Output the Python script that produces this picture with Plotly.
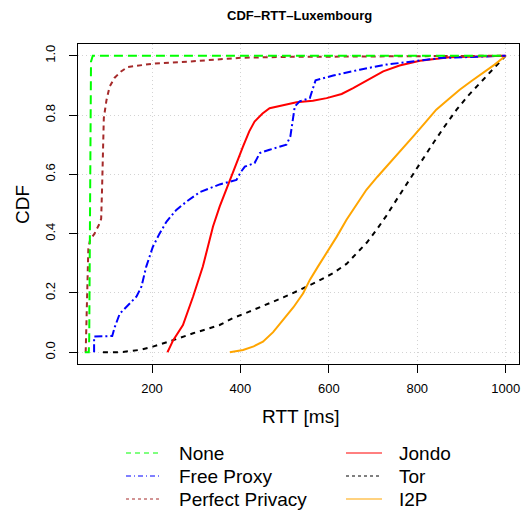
import plotly.graph_objects as go

# ---- data ----
none_x = [48, 57, 58, 59, 60, 61, 62, 66, 100, 300, 600, 1000]
none_y = [0.0, 0.0, 0.05, 0.3, 0.6, 0.9, 0.98, 1.0, 1.0, 1.0, 1.0, 1.0]

free_x = [69, 69, 110, 116, 127, 140, 150, 165, 176, 187, 202, 217, 233, 255, 278, 308, 353,
          391, 402, 410, 432, 444, 466, 504, 513, 518, 523, 534, 557, 563, 570, 610, 670,
          730, 798, 851, 1000]
free_y = [0.0, 0.053, 0.055, 0.086, 0.13, 0.15, 0.165, 0.188, 0.221, 0.289, 0.356, 0.40, 0.441,
          0.48, 0.508, 0.54, 0.566, 0.581, 0.61, 0.626, 0.638, 0.672, 0.683, 0.70, 0.728,
          0.773, 0.829, 0.846, 0.857, 0.885, 0.917, 0.933, 0.953, 0.97, 0.981, 0.992, 1.0]

pp_x = [50, 52, 54, 56, 60, 70, 80, 85, 87, 88, 89, 91, 97, 104, 115, 130, 145, 175, 202,
        280, 345, 400, 500, 700, 1000]
pp_y = [0.0, 0.12, 0.26, 0.35, 0.38, 0.40, 0.43, 0.45, 0.55, 0.65, 0.72, 0.79, 0.85, 0.895,
        0.925, 0.947, 0.962, 0.968, 0.973, 0.98, 0.986, 0.993, 0.996, 0.998, 1.0]

jondo_x = [235, 248, 270, 293, 315, 338, 353, 376, 406, 420, 432, 450, 466, 527, 564, 595,
           629, 655, 685, 723, 760, 806, 873, 1000]
jondo_y = [0.0, 0.041, 0.092, 0.188, 0.289, 0.424, 0.491, 0.581, 0.694, 0.745, 0.778, 0.805,
           0.823, 0.843, 0.848, 0.857, 0.871, 0.891, 0.916, 0.947, 0.967, 0.983, 0.995, 1.0]

tor_x = [89, 127, 172, 202, 248, 293, 353, 383, 420, 459, 497, 534, 572, 610, 640, 663, 686,
         708, 730, 753, 772, 791, 814, 836, 862, 889, 915, 942, 970, 1000]
tor_y = [0.0, 0.0, 0.008, 0.019, 0.041, 0.064, 0.092, 0.115, 0.137, 0.16, 0.185, 0.21,
         0.237, 0.267, 0.298, 0.334, 0.37, 0.413, 0.46, 0.514, 0.558, 0.604, 0.655, 0.705,
         0.762, 0.818, 0.865, 0.908, 0.952, 1.0]

i2p_x = [376, 406, 430, 451, 474, 496, 520, 542, 557, 575, 595, 618, 640, 662, 685, 710,
         738, 764, 791, 817, 843, 870, 896, 922, 949, 975, 1000]
i2p_y = [0.0, 0.008, 0.02, 0.036, 0.068, 0.109, 0.152, 0.199, 0.244, 0.288, 0.334, 0.39,
         0.447, 0.498, 0.548, 0.592, 0.638, 0.683, 0.728, 0.773, 0.818, 0.852, 0.885,
         0.914, 0.942, 0.97, 1.0]

series_names = ["None", "Free Proxy", "Perfect Privacy", "Jondo", "Tor", "I2P"]
series_x = [none_x, free_x, pp_x, jondo_x, tor_x, i2p_x]
series_y = [none_y, free_y, pp_y, jondo_y, tor_y, i2p_y]
colors = ["#00FF00", "#0000FF", "#A52A2A", "#FF0000", "#000000", "#FFA500"]
dashes = ["9px,5px", "8px,3px,2px,3px", "5px,4px", "solid", "5px,5px", "solid"]
legend_dashes = ["5px,4px", "5px,3px,1px,3px", "3px,3px", "solid", "3px,3px", "solid"]

x_ticks = [200, 400, 600, 800, 1000]
y_ticks = [0.0, 0.2, 0.4, 0.6, 0.8, 1.0]
y_tick_text = ["0.0", "0.2", "0.4", "0.6", "0.8", "1.0"]

W, H = 522, 510
L, R, T, B = 78, 3, 44, 146
plot_w = W - L - R
plot_h = H - T - B

fig = go.Figure()
order = [4, 5, 3, 1, 2, 0]
for i in order:
    fig.add_trace(go.Scatter(
        x=series_x[i], y=series_y[i], mode="lines", name=series_names[i],
        line=dict(color=colors[i], width=2, dash=dashes[i]), showlegend=False))

FONT = "Liberation Sans, Arial, Helvetica, sans-serif"

fig.update_layout(
    width=W, height=H,
    margin=dict(l=L, r=R, t=T, b=B, pad=0),
    paper_bgcolor="white", plot_bgcolor="white",
    font=dict(family=FONT, color="black", size=13),
    showlegend=False,
    xaxis=dict(range=[32.6, 1030.2], tickvals=x_ticks, ticktext=[str(v) for v in x_ticks],
               showgrid=True, gridcolor="#D3D3D3", griddash="1px,3px", gridwidth=1,
               zeroline=False, showline=True, mirror=True, linecolor="black", linewidth=1,
               ticks="outside", ticklen=8, tickcolor="black", tickfont=dict(size=13),
               ticklabelstandoff=4),
    yaxis=dict(range=[-0.0395, 1.0395], tickvals=y_ticks, ticktext=y_tick_text,
               showgrid=True, gridcolor="#D3D3D3", griddash="1px,3px", gridwidth=1,
               zeroline=False, showline=True, mirror=True, linecolor="black", linewidth=1,
               ticks="outside", ticklen=8, tickcolor="black", tickfont=dict(size=13),
               tickangle=-90, ticklabelstandoff=9),
)

def px_to_paper_x(px):
    return (px - L) / plot_w

def py_to_paper_y(py):
    return (H - B - py) / plot_h

annotations = [
    dict(text="<b>CDF\u2013RTT\u2013Luxembourg</b>", x=px_to_paper_x(299), y=py_to_paper_y(15),
         xref="paper", yref="paper", showarrow=False, font=dict(size=13),
         xanchor="center", yanchor="middle"),
    dict(text="RTT [ms]", x=px_to_paper_x(300), y=py_to_paper_y(416),
         xref="paper", yref="paper", showarrow=False, font=dict(size=19),
         xanchor="center", yanchor="middle"),
    dict(text="CDF", x=px_to_paper_x(22), y=py_to_paper_y(205), textangle=-90,
         xref="paper", yref="paper", showarrow=False, font=dict(size=19),
         xanchor="center", yanchor="middle"),
]

shapes = []
legend_rows = [453, 476, 499]
col_line = [(126, 160), (346, 382)]
col_text = [177, 397]
for k in range(6):
    col = k // 3
    row = k % 3
    py = legend_rows[row]
    x0, x1 = col_line[col]
    shapes.append(dict(type="line", xref="paper", yref="paper",
                       x0=px_to_paper_x(x0), x1=px_to_paper_x(x1),
                       y0=py_to_paper_y(py), y1=py_to_paper_y(py),
                       line=dict(color=colors[k], width=1, dash=legend_dashes[k])))
    annotations.append(dict(text=series_names[k], x=px_to_paper_x(col_text[col]),
                            y=py_to_paper_y(py), xref="paper", yref="paper",
                            showarrow=False, font=dict(size=19),
                            xanchor="left", yanchor="middle"))

fig.update_layout(annotations=annotations, shapes=shapes)
fig.write_html("out.html")
